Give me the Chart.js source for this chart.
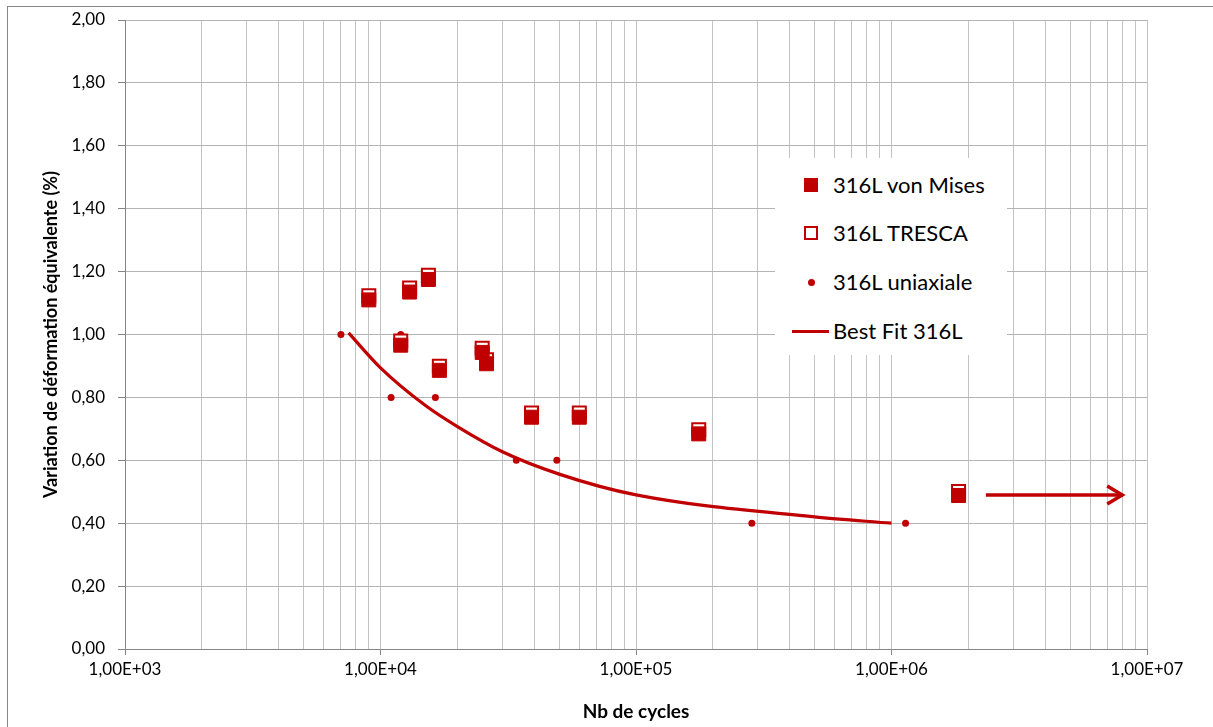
<!DOCTYPE html>
<html>
<head>
<meta charset="utf-8">
<script src="https://cdn.jsdelivr.net/npm/chart.js@4.4.0/dist/chart.umd.min.js"></script>
<style>
  html, body { margin: 0; padding: 0; background: #fff; overflow: hidden; width: 1213px; height: 727px; }
  #frame { position: absolute; left: 7px; top: 6px; width: 1300px; height: 800px; border: 1px solid #868686; }
  #c { position: absolute; left: 0; top: 0; }
  #legend { position: absolute; left: 775px; top: 158px; width: 232px; height: 197px; background: #fff;
            font-family: Lato, sans-serif; font-size: 22px; color: #000; }
  .item { position: absolute; left: 0; width: 232px; height: 30px; line-height: 30px; white-space: nowrap; }
  .item span.txt { position: absolute; left: 58px; top: 0; }
  .mk { position: absolute; box-sizing: border-box; }
</style>
</head>
<body>
<div id="frame"></div>
<canvas id="c" width="1213" height="727"></canvas>
<div id="legend"></div>
<script>
// colours
const red = "#c00000";

// 316L von Mises (filled squares)
const vmCycles = [9000, 13000, 15400, 12000, 17000, 25000, 26000, 39000, 60000, 176000, 1830000];
const vmStrain = [1.11, 1.135, 1.175, 0.966, 0.886, 0.943, 0.907, 0.737, 0.737, 0.684, 0.488];

// 316L TRESCA (open squares)
const trCycles = [9000, 13000, 15400, 12000, 17000, 25000, 26000, 39000, 60000, 176000, 1830000];
const trStrain = [1.123, 1.148, 1.188, 0.979, 0.899, 0.956, 0.92, 0.75, 0.75, 0.697, 0.501];

// 316L uniaxial (small dots)
const uniCycles = [7000, 12000, 11000, 16400, 34000, 49000, 284000, 1135000];
const uniStrain = [1.0, 1.0, 0.8, 0.8, 0.6, 0.6, 0.4, 0.4];

// Best fit 316L
const fitCycles = [7500, 10000, 15000, 20000, 30000, 50000, 100000, 500000, 1000000];
const fitStrain = [1.005, 0.894, 0.774, 0.707, 0.627, 0.556, 0.49, 0.42, 0.40];

// arrow (run-out)
const arrowCycles = [2340000, 8000000];
const arrowStrain = [0.49, 0.49];

// axes
const decades = [1e3, 1e4, 1e5, 1e6, 1e7];
const minorSteps = [1, 2, 3, 4, 5, 6, 7, 8, 9];
const legendLabels = ["316L von Mises", "316L TRESCA", "316L uniaxiale", "Best Fit 316L"];

const pts = (xs, ys) => xs.map((x, i) => ({ x: x, y: ys[i] }));
const isDecade = (v) => Math.abs(Math.log10(v) - Math.round(Math.log10(v))) < 1e-9;

const arrowHead = {
  id: "arrowHead",
  afterDatasetsDraw(chart) {
    const meta = chart.getDatasetMeta(4);
    const tip = meta.data[meta.data.length - 1];
    const ctx = chart.ctx;
    ctx.save();
    ctx.strokeStyle = red;
    ctx.lineWidth = 3.5;
    ctx.lineJoin = "miter";
    ctx.beginPath();
    ctx.moveTo(tip.x - 15, tip.y - 9);
    ctx.lineTo(tip.x, tip.y);
    ctx.lineTo(tip.x - 15, tip.y + 9);
    ctx.stroke();
    ctx.restore();
  }
};

new Chart(document.getElementById("c"), {
  type: "scatter",
  data: {
    datasets: [
      {
        label: legendLabels[0],
        data: pts(vmCycles, vmStrain),
        pointStyle: "rect",
        pointRadius: 9.9,
        backgroundColor: red,
        borderColor: red,
        borderWidth: 1,
      },
      {
        label: legendLabels[1],
        data: pts(trCycles, trStrain),
        pointStyle: "rect",
        pointRadius: 9.2,
        backgroundColor: "#fff",
        borderColor: red,
        borderWidth: 2,
      },
      {
        label: legendLabels[2],
        data: pts(uniCycles, uniStrain),
        pointStyle: "circle",
        pointRadius: 3.5,
        backgroundColor: red,
        borderColor: red,
        borderWidth: 0,
      },
      {
        label: legendLabels[3],
        data: pts(fitCycles, fitStrain),
        showLine: true,
        pointRadius: 0,
        borderColor: red,
        borderWidth: 3.2,
        cubicInterpolationMode: "monotone",
      },
      {
        label: "arrow",
        data: pts(arrowCycles, arrowStrain),
        showLine: true,
        pointRadius: 0,
        borderColor: red,
        borderWidth: 3.5,
      },
    ],
  },
  options: {
    responsive: false,
    devicePixelRatio: 1,
    animation: false,
    layout: { padding: { top: 20, right: 66, bottom: 0, left: 0 } },
    plugins: { legend: { display: false }, tooltip: { enabled: false } },
    scales: {
      x: {
        type: "logarithmic",
        min: 1e3,
        max: 1e7,
        afterBuildTicks(scale) {
          const t = [];
          decades.forEach((d) => {
            minorSteps.forEach((m) => {
              if (d * m <= 1e7) t.push({ value: d * m });
            });
          });
          scale.ticks = t;
        },
        afterFit(scale) {
          scale.height = 78;
          scale.paddingLeft = 0;
          scale.paddingRight = 0;
        },
        ticks: {
          autoSkip: false,
          maxRotation: 0,
          padding: 4,
          color: "#000",
          font: { family: "Lato", size: 17 },
          callback: (v) => (isDecade(v) ? "1,00E+" + String(Math.round(Math.log10(v))).padStart(2, "0") : ""),
        },
        grid: {
          color: "#c3c3c3",
          lineWidth: 1,
          tickLength: 6,
          tickColor: (ctx) => (ctx.tick && isDecade(ctx.tick.value) ? "#868686" : "rgba(0,0,0,0)"),
        },
        border: { color: "#868686", width: 1 },
        title: {
          display: true,
          text: "Nb de cycles",
          color: "#000",
          font: { family: "Lato", size: 19, weight: "bold" },
          padding: { top: 0, bottom: 4 },
        },
      },
      y: {
        min: 0,
        max: 2,
        afterFit(scale) {
          scale.width = 125;
          scale.paddingTop = 0;
          scale.paddingBottom = 0;
        },
        ticks: {
          stepSize: 0.2,
          padding: 13,
          color: "#000",
          font: { family: "Lato", size: 17 },
          callback: (v) => v.toFixed(2).replace(".", ","),
        },
        grid: { color: "#b4b4b4", lineWidth: 1, tickLength: 7, tickColor: "#868686" },
        border: { color: "#868686", width: 1 },
        title: {
          display: true,
          text: "Variation de déformation équivalente (%)",
          color: "#000",
          font: { family: "Lato", size: 18, weight: "bold" },
          padding: { top: 40, bottom: 0 },
        },
      },
    },
  },
  plugins: [arrowHead],
});

// legend box drawn over the plot, like the Excel one
const legend = document.getElementById("legend");
const rowTops = [12, 60, 109, 158];
const markers = [
  "left:29px;top:8px;width:14px;height:14px;background:" + red,
  "left:29px;top:8px;width:14px;height:14px;background:#fff;border:2px solid " + red,
  "left:33px;top:12px;width:7px;height:7px;border-radius:50%;background:" + red,
  "left:17px;top:14px;width:37px;height:3px;background:" + red,
];
legendLabels.forEach((lab, i) => {
  const row = document.createElement("div");
  row.className = "item";
  row.style.top = rowTops[i] + "px";
  const mk = document.createElement("span");
  mk.className = "mk";
  mk.style.cssText = markers[i];
  const tx = document.createElement("span");
  tx.className = "txt";
  tx.textContent = lab;
  row.appendChild(mk);
  row.appendChild(tx);
  legend.appendChild(row);
});
</script>
</body>
</html>
